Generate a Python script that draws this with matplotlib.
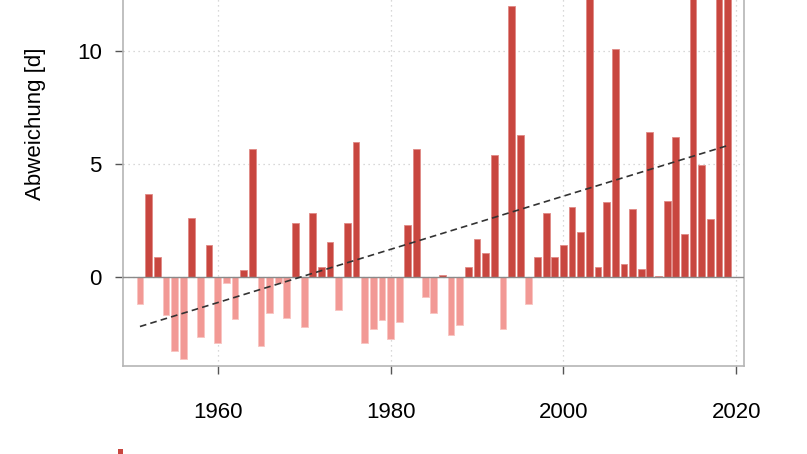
import matplotlib
matplotlib.use("Agg")
import matplotlib.pyplot as plt
from matplotlib.patches import Rectangle
import numpy as np

# Abweichung in Tagen, 1951-2019 (oben abgeschnittene Werte geschaetzt)
jahre = list(range(1951, 2020))
abweichung = [
    -1.2, 3.66, 0.85, -1.7, -3.3, -3.67, 2.58, -2.67, 1.38, -2.93,
    -0.27, -1.88, 0.27, 5.68, -3.07, -1.6, -0.3, -1.85, 2.37, -2.22,
    2.82, 0.44, 1.53, -1.48, 2.37, 5.96, -2.96, -2.34, -1.95, -2.78,
    -2.04, 2.27, 5.68, -0.93, -1.6, 0.06, -2.58, -2.15, 0.42, 1.68,
    1.04, 5.38, -2.34, 12.02, 6.3, -1.23, 0.89, 2.82, 0.89, 1.41,
    3.11, 1.97, 14.5, 0.44, 3.33, 10.1, 0.56, 2.99, 0.33, 6.4,
    0.03, 3.36, 6.22, 1.88, 13.8, 4.96, 2.55, 16.5, 13.2,
]
# linearer Trend, Endpunkte
trend_jahre = [1951, 2019]
trend_werte = [-2.22, 5.82]

xticks = [1960, 1980, 2000, 2020]
yticks = [0, 5, 10]

rot = "#c8463f"
rosa = "#f29995"

fig = plt.figure(figsize=(8.07, 4.54), dpi=100)
ax = fig.add_axes([0.152, 0.1945, 0.770, 1.064])

werte = np.array(abweichung)
farben = [rot if v >= 0 else rosa for v in werte]
kanten = ["#e08a85" if v >= 0 else "#f8c4c1" for v in werte]
ax.bar(jahre, werte, width=0.78, color=farben, edgecolor=kanten, linewidth=0.6, zorder=2)

ax.axhline(0, color="#8a8a8a", lw=1.0, zorder=3)
ax.plot(trend_jahre, trend_werte, ls=(0, (4, 2.5)), color="#333333", lw=1.2, zorder=4)

ax.set_xlim(1949.0, 2020.9)
ax.set_ylim(-3.96, 17.5)
ax.set_xticks(xticks)
ax.set_yticks(yticks)
ax.grid(True, ls=(0, (1, 3)), color="#cccccc", lw=0.9, zorder=0)
ax.set_axisbelow(True)

for s in ["left", "bottom", "right", "top"]:
    ax.spines[s].set_color("#b5b5b5")
    ax.spines[s].set_linewidth(1.2)

ax.tick_params(axis="x", length=6, width=1, color="#555555", pad=20, labelsize=16)
ax.tick_params(axis="y", length=6, width=1, color="#555555", pad=9, labelsize=16)
for lab in ax.get_xticklabels() + ax.get_yticklabels():
    lab.set_family("Liberation Sans")

ax.set_ylabel("Abweichung [d]", fontsize=16, family="Liberation Sans", labelpad=22)

# Rest der Legende am unteren Rand
fig.add_artist(Rectangle((118 / 807, 0), 5 / 807, 5 / 454, transform=fig.transFigure,
                         color=rot, lw=0))

fig.savefig("out.png", dpi=100)
